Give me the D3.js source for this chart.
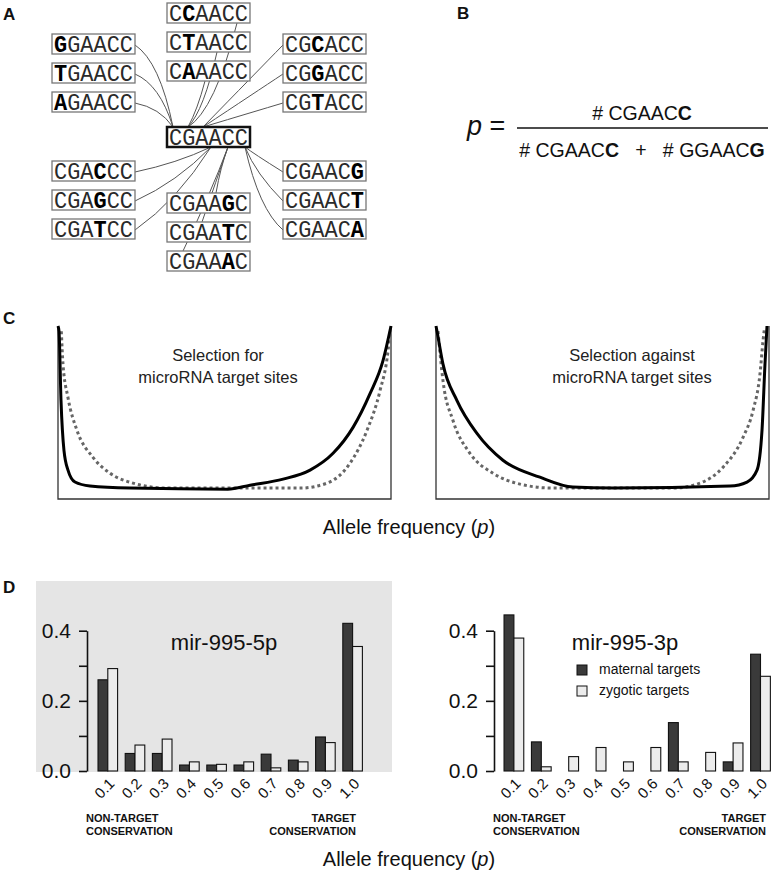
<!DOCTYPE html>
<html>
<head>
<meta charset="utf-8">
<script src="https://cdn.jsdelivr.net/npm/d3@7"></script>
<style>
  html, body { margin: 0; padding: 0; background: #fff; }
  svg { display: block; }
</style>
</head>
<body>
<svg id="fig" width="771" height="874"></svg>
<script>
// ---------------- DATA ----------------
// Panel A: reference site and its single-nucleotide variants
const seqCenter = "CGAACC";
const variantsPos1 = ["GGAACC", "TGAACC", "AGAACC"];
const variantsPos2 = ["CCAACC", "CTAACC", "CAAACC"];
const variantsPos3 = ["CGCACC", "CGGACC", "CGTACC"];
const variantsPos4 = ["CGACCC", "CGAGCC", "CGATCC"];
const variantsPos5 = ["CGAAGC", "CGAATC", "CGAAAC"];
const variantsPos6 = ["CGAACG", "CGAACT", "CGAACA"];

// Panel C: schematic allele-frequency distributions [p, relative density]
const selForSolid = [[0,1.0],[0.003,0.97],[0.009,0.57],[0.018,0.28],[0.03,0.167],[0.051,0.098],[0.096,0.075],[0.216,0.063],[0.51,0.057],[0.577,0.08],[0.676,0.115],[0.757,0.167],[0.826,0.264],[0.886,0.414],[0.937,0.609],[0.976,0.8],[1.0,1.0]];
const selForDotted = [[0.01,0.97],[0.015,0.78],[0.03,0.586],[0.057,0.397],[0.105,0.241],[0.156,0.149],[0.225,0.092],[0.327,0.063],[0.727,0.063],[0.808,0.092],[0.877,0.207],[0.928,0.397],[0.967,0.626],[0.991,0.856],[0.997,0.97]];
const selAgainstSolid = [[0,1.0],[0.003,0.97],[0.021,0.78],[0.063,0.569],[0.123,0.379],[0.201,0.224],[0.312,0.126],[0.411,0.069],[0.532,0.063],[0.883,0.075],[0.934,0.098],[0.964,0.167],[0.979,0.397],[0.988,0.782],[0.994,1.0]];
const selAgainstDotted = [[0.006,0.97],[0.021,0.684],[0.051,0.454],[0.102,0.264],[0.171,0.149],[0.252,0.086],[0.351,0.063],[0.712,0.063],[0.793,0.092],[0.862,0.184],[0.922,0.356],[0.952,0.511],[0.973,0.724],[0.982,0.914],[0.986,0.98]];

// Panel D: allele-frequency histograms
const freqBins = ["0.1","0.2","0.3","0.4","0.5","0.6","0.7","0.8","0.9","1.0"];
const yTicks = [0, 0.1, 0.2, 0.3, 0.4];
const maternal5p = [0.260, 0.050, 0.050, 0.017, 0.017, 0.017, 0.048, 0.031, 0.097, 0.421];
const zygotic5p  = [0.292, 0.074, 0.091, 0.026, 0.019, 0.026, 0.009, 0.026, 0.081, 0.355];
const maternal3p = [0.445, 0.083, 0.000, 0.000, 0.000, 0.000, 0.138, 0.000, 0.026, 0.333];
const zygotic3p  = [0.379, 0.012, 0.041, 0.067, 0.026, 0.067, 0.026, 0.053, 0.080, 0.270];
const seriesNames = ["maternal targets", "zygotic targets"];

// ---------------- DRAWING ----------------
const SANS = '"Liberation Sans", Arial, sans-serif';
const MONO = '"Liberation Mono", "DejaVu Sans Mono", monospace';
const svg = d3.select("#fig").attr("font-family", SANS);

function panelLabel(t, x, y) {
  svg.append("text").attr("x", x).attr("y", y).text(t)
    .attr("font-size", 17).attr("font-weight", "bold").attr("fill", "#111");
}
panelLabel("A", 3, 20);
panelLabel("B", 457, 19);
panelLabel("C", 3, 324);
panelLabel("D", 3, 593);

// ---- Panel A ----
const gA = svg.append("g");
const BW = 83, BH = 20, STEP = 29;
const center = {x: 167, y: 127};
const groups = [
  {seqs: variantsPos1, x: 52,  y: 34,  side: "right",  target: [173, 127]},
  {seqs: variantsPos2, x: 167, y: 3,   side: "bottom", target: [188, 127], startX: [237, 217, 205]},
  {seqs: variantsPos3, x: 283, y: 34,  side: "left",   target: [203, 127]},
  {seqs: variantsPos4, x: 52,  y: 161, side: "right",  target: [211, 147]},
  {seqs: variantsPos5, x: 167, y: 193, side: "top",    target: [228, 147], startX: [216, 202, 183]},
  {seqs: variantsPos6, x: 283, y: 161, side: "left",   target: [245, 147]}
];
const linkG = gA.append("g").attr("fill", "none").attr("stroke", "#555").attr("stroke-width", 1);
groups.forEach((g, gi) => {
  g.seqs.forEach((s, i) => {
    const by = g.y + i * STEP;
    const [tx, ty] = g.target;
    let sx, sy, cx, cy;
    if (g.side === "right") {
      sx = g.x + BW; sy = by + 11;
      if (gi === 0) { cx = sx + 0.65 * (tx - sx); cy = sy + 0.2 * (ty - sy); }
      else { cx = sx + 0.55 * (tx - sx); cy = sy + 0.35 * (ty - sy); }
    } else if (g.side === "left") {
      sx = g.x; sy = by + 11;
      if (gi === 2) { cx = sx - 0.35 * (sx - tx); cy = sy + 0.35 * (ty - sy); }
      else { cx = tx + 8 + i * 3; cy = ty + (sy - ty) * (0.25 + i * 0.25); }
    } else if (g.side === "bottom") {
      sx = g.startX[i]; sy = by + BH;
      cx = tx + 0.55 * (sx - tx); cy = ty - 17;
    } else {
      sx = g.startX[i]; sy = by;
      cx = tx - 0.3 * (tx - sx) - 4; cy = ty + 0.45 * (sy - ty);
    }
    linkG.append("path").attr("d", `M${sx},${sy} Q${cx},${cy} ${tx},${ty}`);
  });
});

function drawBox(seq, x, y, isCenter) {
  const g = gA.append("g");
  g.append("rect").attr("x", x).attr("y", y).attr("width", BW).attr("height", BH)
    .attr("fill", "#fff").attr("stroke", isCenter ? "#111" : "#777")
    .attr("stroke-width", isCenter ? 2.5 : 1.3);
  const t = g.append("text").attr("x", x + 2).attr("y", y + 17.5)
    .attr("textLength", 79).attr("lengthAdjust", "spacingAndGlyphs")
    .attr("font-family", MONO).attr("font-size", 23).attr("fill", "#2a2a2a");
  seq.split("").forEach((ch, k) => {
    const mut = !isCenter && ch !== seqCenter[k];
    t.append("tspan").text(ch).attr("font-weight", mut ? "bold" : "normal").attr("fill", mut ? "#000" : "#2a2a2a");
  });
}
groups.forEach(g => g.seqs.forEach((s, i) => drawBox(s, g.x, g.y + i * STEP, false)));
drawBox(seqCenter, center.x, center.y, true);

// ---- Panel B ----
const gB = svg.append("g").attr("fill", "#111");
const pT = gB.append("text").attr("x", 467).attr("y", 135).attr("font-size", 27);
pT.append("tspan").attr("font-style", "italic").text("p");
pT.append("tspan").text(" =");
gB.append("line").attr("x1", 517).attr("x2", 768).attr("y1", 128).attr("y2", 128)
  .attr("stroke", "#111").attr("stroke-width", 1.5);
const num = gB.append("text").attr("x", 642).attr("y", 120).attr("text-anchor", "middle").attr("font-size", 19.5)
  .style("white-space", "pre");
num.append("tspan").text("# CGAAC");
num.append("tspan").attr("font-weight", "bold").text("C");
const den = gB.append("text").attr("x", 642).attr("y", 157).attr("text-anchor", "middle").attr("font-size", 19.5)
  .style("white-space", "pre");
den.append("tspan").text("# CGAAC");
den.append("tspan").attr("font-weight", "bold").text("C");
den.append("tspan").text("   +   # GGAAC");
den.append("tspan").attr("font-weight", "bold").text("G");

// ---- Panel C ----
function curvePanel(x0, x1, solid, dotted, lines) {
  const top = 326, bottom = 499;
  const xs = d3.scaleLinear().domain([0, 1]).range([x0, x1]);
  const ys = d3.scaleLinear().domain([0, 1]).range([bottom, top]);
  const g = svg.append("g");
  g.append("path").attr("d", `M${x0},${top}V${bottom}H${x1}V${top}`)
    .attr("fill", "none").attr("stroke", "#333").attr("stroke-width", 1.3);
  const line = d3.line().x(d => xs(d[0])).y(d => ys(d[1])).curve(d3.curveMonotoneX);
  g.append("path").attr("d", line(dotted)).attr("fill", "none").attr("stroke", "#666")
    .attr("stroke-width", 3).attr("stroke-dasharray", "3,3");
  g.append("path").attr("d", line(solid)).attr("fill", "none").attr("stroke", "#000")
    .attr("stroke-width", 3).attr("stroke-linejoin", "round");
  lines.forEach((l, i) => g.append("text").attr("x", l.x).attr("y", 361 + i * 22)
    .attr("text-anchor", "middle").attr("font-size", 16.5).attr("fill", "#222").text(l.t));
}
curvePanel(58, 391, selForSolid, selForDotted, [{t: "Selection for", x: 218}, {t: "microRNA target sites", x: 218}]);
curvePanel(436, 769, selAgainstSolid, selAgainstDotted, [{t: "Selection against", x: 632}, {t: "microRNA target sites", x: 632}]);

function alleleLabel(y) {
  const t = svg.append("text").attr("x", 409).attr("y", y).attr("text-anchor", "middle")
    .attr("font-size", 20).attr("fill", "#111");
  t.append("tspan").text("Allele frequency (");
  t.append("tspan").attr("font-style", "italic").text("p");
  t.append("tspan").text(")");
}
alleleLabel(534);

// ---- Panel D ----
svg.append("rect").attr("x", 36).attr("y", 581).attr("width", 356).attr("height", 191).attr("fill", "#e5e5e5");

const yD = d3.scaleLinear().domain([0, 0.4]).range([771, 630.7]);
function histPanel(axisX, r0, r1, mat, zyg, title, titleX) {
  const g = svg.append("g");
  const x = d3.scaleBand().domain(freqBins).range([r0, r1]).paddingInner(0.28).paddingOuter(0.14);
  const xi = d3.scaleBand().domain(seriesNames).range([0, x.bandwidth()]);
  const ax = g.append("g").attr("transform", `translate(${axisX},0)`)
    .call(d3.axisLeft(yD).tickValues(yTicks).tickSize(8).tickSizeOuter(0).tickPadding(8)
      .tickFormat(d => (Math.round(d * 10) % 2 === 0) ? d.toFixed(1) : ""));
  ax.select(".domain").attr("stroke", "#111").attr("stroke-width", 1.6);
  ax.selectAll(".tick line").attr("stroke", "#111").attr("stroke-width", 1.6);
  ax.selectAll(".tick text").attr("font-family", SANS).attr("font-size", 21).attr("fill", "#111");

  const rows = freqBins.map((b, i) => ({bin: b, vals: [mat[i], zyg[i]]}));
  const grp = g.selectAll(".bin").data(rows).join("g").attr("transform", d => `translate(${x(d.bin)},0)`);
  grp.selectAll("rect").data(d => d.vals.map((v, k) => ({k, v}))).join("rect")
    .attr("x", d => xi(seriesNames[d.k])).attr("width", xi.bandwidth())
    .attr("y", d => yD(d.v)).attr("height", d => yD(0) - yD(d.v))
    .attr("fill", d => d.k === 0 ? "#3a3a3a" : "#ececec")
    .attr("stroke", "#111").attr("stroke-width", 1.1);

  const xa = g.append("g").attr("transform", "translate(0,781)")
    .call(d3.axisBottom(x).tickSize(0));
  xa.select(".domain").remove();
  xa.selectAll(".tick text").attr("y", 0).attr("x", 0).attr("dy", "0.35em")
    .attr("text-anchor", "end").attr("transform", "translate(4,0) rotate(-45)")
    .attr("font-family", SANS).attr("font-size", 15).attr("fill", "#111");

  g.append("text").attr("x", titleX).attr("y", 650).attr("text-anchor", "middle")
    .attr("font-size", 22).attr("fill", "#111").text(title);

  const lab = (t, xx, yy, anchor) => g.append("text").attr("x", xx).attr("y", yy).attr("text-anchor", anchor)
    .attr("font-size", 11).attr("font-weight", "bold").attr("fill", "#111").text(t);
  lab("NON-TARGET", axisX - 1, 822, "start");
  lab("CONSERVATION", axisX - 1, 835, "start");
  return {x, lab};
}
const h1 = histPanel(87, 94.2, 366.2, maternal5p, zygotic5p, "mir-995-5p", 224);
h1.lab("TARGET", 356, 822, "end"); h1.lab("CONSERVATION", 356, 835, "end");
const h2 = histPanel(494, 500.2, 774.2, maternal3p, zygotic3p, "mir-995-3p", 625);
h2.lab("TARGET", 766, 822, "end"); h2.lab("CONSERVATION", 766, 835, "end");

// legend
const lg = svg.append("g");
seriesNames.forEach((s, i) => {
  lg.append("rect").attr("x", 577).attr("y", 665 + i * 21).attr("width", 10).attr("height", 10)
    .attr("fill", i === 0 ? "#3a3a3a" : "#ececec").attr("stroke", "#111").attr("stroke-width", 1);
  lg.append("text").attr("x", 599).attr("y", 674 + i * 21).attr("font-size", 14).attr("fill", "#111").text(s);
});

alleleLabel(866);
</script>
</body>
</html>
